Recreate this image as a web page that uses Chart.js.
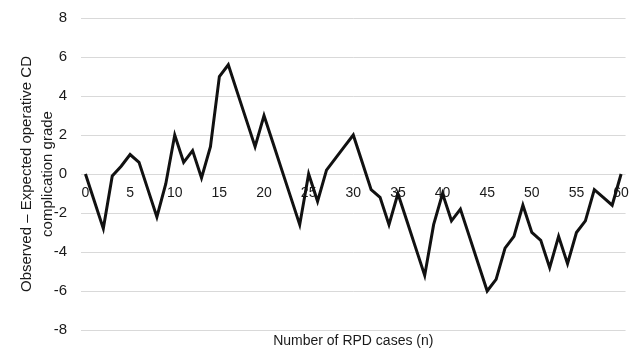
<!DOCTYPE html>
<html>
<head>
<meta charset="utf-8">
<script src="https://cdn.jsdelivr.net/npm/chart.js@4"></script>
<style>
  html, body { margin: 0; padding: 0; background: #fff; }
  #wrap { width: 640px; height: 348px; }
</style>
</head>
<body>
<div id="wrap"><canvas id="cusumChart"></canvas></div>
<script>
const caseNumbers = [0, 1, 2, 3, 4, 5, 6, 7, 8, 9, 10, 11, 12, 13, 14, 15, 16, 17, 18, 19, 20,
  21, 22, 23, 24, 25, 26, 27, 28, 29, 30, 31, 32, 33, 34, 35, 36, 37, 38, 39, 40,
  41, 42, 43, 44, 45, 46, 47, 48, 49, 50, 51, 52, 53, 54, 55, 56, 57, 58, 59, 60];

const observedMinusExpected = [0, -1.4, -2.8, -0.1, 0.4, 1.0, 0.6, -0.8, -2.2, -0.5, 2.0,
  0.6, 1.2, -0.2, 1.4, 5.0, 5.6, 4.2, 2.8, 1.4, 3.0,
  1.6, 0.2, -1.2, -2.6, 0, -1.4, 0.2, 0.8, 1.4, 2.0,
  0.6, -0.8, -1.2, -2.6, -1.0, -2.4, -3.8, -5.2, -2.6, -1.0,
  -2.4, -1.8, -3.2, -4.6, -6.0, -5.4, -3.8, -3.2, -1.6, -3.0,
  -3.4, -4.8, -3.2, -4.6, -3.0, -2.4, -0.8, -1.2, -1.6, 0];

const yTicks = [-8, -6, -4, -2, 0, 2, 4, 6, 8];

const textColor = "#1a1a1a";
const fontFamily = "'Liberation Sans', Arial, Helvetica, sans-serif";

new Chart(document.getElementById("cusumChart"), {
  type: "line",
  data: {
    labels: caseNumbers,
    datasets: [{
      data: observedMinusExpected,
      borderColor: "#111",
      borderWidth: 3,
      pointRadius: 0,
      tension: 0,
      fill: false
    }]
  },
  options: {
    responsive: true,
    maintainAspectRatio: false,
    animation: false,
    layout: { padding: { top: 18, right: 13, bottom: 0, left: 0 } },
    plugins: { legend: { display: false }, tooltip: { enabled: false } },
    scales: {
      x: {
        type: "category",
        offset: true,
        position: { y: 0 },
        grid: { display: false, drawTicks: false },
        border: { display: false },
        ticks: {
          autoSkip: false,
          maxRotation: 0,
          padding: 11,
          color: textColor,
          font: { family: fontFamily, size: 14 },
          callback: function (value) {
            const n = this.getLabelForValue(value);
            return n % 5 === 0 ? String(n) : null;
          }
        }
      },
      xTitle: {
        type: "category",
        position: "bottom",
        labels: caseNumbers,
        grid: { display: false, drawTicks: false },
        border: { display: false },
        ticks: { display: false },
        title: {
          display: true,
          text: "Number of RPD cases (n)",
          color: textColor,
          font: { family: fontFamily, size: 14 },
          padding: { top: 0, bottom: -2 }
        },
        afterFit: (scale) => {
          scale.height = 18;
          scale.paddingLeft = 0;
          scale.paddingRight = 0;
        }
      },
      y: {
        min: yTicks[0],
        max: yTicks[yTicks.length - 1],
        afterBuildTicks: (scale) => { scale.ticks = yTicks.map(v => ({ value: v })); },
        grid: { color: "#d9d9d9", lineWidth: 1, drawTicks: false },
        border: { display: false },
        ticks: {
          padding: 14,
          color: textColor,
          font: { family: fontFamily, size: 15 }
        },
        title: {
          display: true,
          text: ["Observed \u2013 Expected operative CD", "complication grade"],
          color: textColor,
          font: { family: fontFamily, size: 15, lineHeight: 1.4 },
          padding: { top: 16, bottom: 4 }
        },
        afterFit: (scale) => {
          scale.width = 81;
          scale.paddingTop = 0;
          scale.paddingBottom = 0;
        }
      }
    }
  }
});
</script>
</body>
</html>
